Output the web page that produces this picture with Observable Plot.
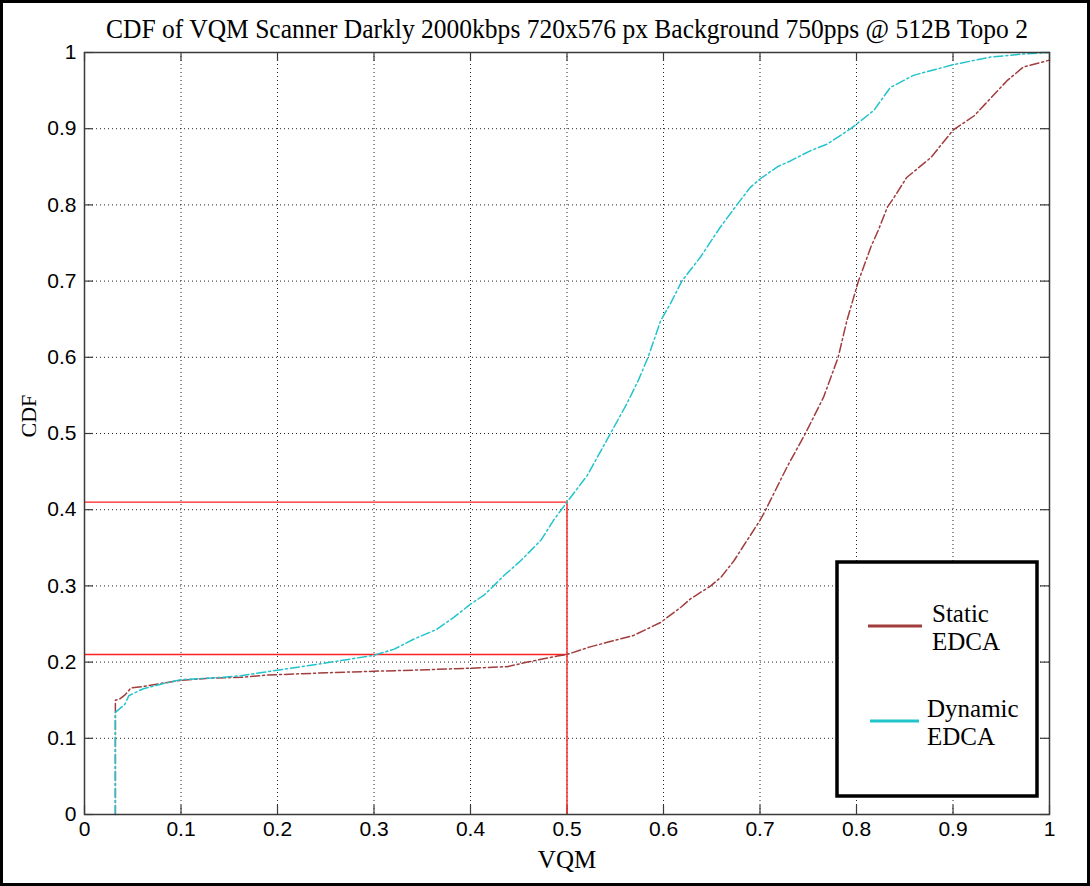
<!DOCTYPE html>
<html>
<head>
<meta charset="utf-8">
<script src="https://cdn.jsdelivr.net/npm/d3@7"></script>
<script src="https://cdn.jsdelivr.net/npm/@observablehq/plot@0.6"></script>
<style>
  html, body { margin: 0; padding: 0; background: #fff; }
  #chart { width: 1090px; height: 886px; }
</style>
</head>
<body>
<div id="chart"></div>
<script>
// ---- Data ----
const titleText = "CDF of VQM Scanner Darkly 2000kbps 720x576 px Background 750pps @ 512B Topo 2";
const xLabel = "VQM";
const yLabel = "CDF";
const seriesNames = ["Static\nEDCA", "Dynamic\nEDCA"];
const seriesColors = ["#a13d3d", "#22c4cc"];

const xTicks = [0, 0.1, 0.2, 0.3, 0.4, 0.5, 0.6, 0.7, 0.8, 0.9, 1];
const xTickLabels = ["0", "0.1", "0.2", "0.3", "0.4", "0.5", "0.6", "0.7", "0.8", "0.9", "1"];
const yTicks = [0, 0.1, 0.2, 0.3, 0.4, 0.5, 0.6, 0.7, 0.8, 0.9, 1];
const yTickLabels = ["0", "0.1", "0.2", "0.3", "0.4", "0.5", "0.6", "0.7", "0.8", "0.9", "1"];

const staticVQM = [0.032, 0.032, 0.037, 0.042, 0.048, 0.061, 0.079, 0.100, 0.131, 0.162, 0.189, 0.251, 0.300, 0.355, 0.400, 0.438, 0.459, 0.490, 0.500, 0.524, 0.569, 0.597, 0.618, 0.628, 0.649, 0.660, 0.673, 0.700, 0.706, 0.728, 0.747, 0.766, 0.781, 0.790, 0.802, 0.815, 0.823, 0.832, 0.839, 0.852, 0.877, 0.900, 0.922, 0.956, 0.973, 1.000];
const staticCDF = [0.000, 0.150, 0.152, 0.157, 0.166, 0.168, 0.172, 0.176, 0.179, 0.180, 0.183, 0.186, 0.188, 0.190, 0.192, 0.194, 0.200, 0.208, 0.210, 0.220, 0.235, 0.252, 0.272, 0.283, 0.300, 0.312, 0.333, 0.386, 0.400, 0.456, 0.500, 0.548, 0.600, 0.648, 0.700, 0.745, 0.768, 0.797, 0.810, 0.836, 0.862, 0.898, 0.917, 0.963, 0.981, 0.990];

const dynamicVQM = [0.032, 0.032, 0.042, 0.046, 0.061, 0.079, 0.100, 0.131, 0.162, 0.182, 0.251, 0.300, 0.321, 0.341, 0.365, 0.383, 0.400, 0.414, 0.424, 0.435, 0.452, 0.473, 0.486, 0.500, 0.521, 0.545, 0.562, 0.574, 0.584, 0.597, 0.607, 0.619, 0.638, 0.659, 0.676, 0.690, 0.700, 0.718, 0.732, 0.752, 0.770, 0.794, 0.800, 0.818, 0.835, 0.859, 0.900, 0.939, 0.973, 1.000];
const dynamicCDF = [0.000, 0.134, 0.145, 0.156, 0.165, 0.171, 0.177, 0.179, 0.182, 0.186, 0.199, 0.209, 0.217, 0.230, 0.243, 0.259, 0.276, 0.288, 0.300, 0.314, 0.333, 0.360, 0.386, 0.410, 0.445, 0.500, 0.539, 0.570, 0.600, 0.648, 0.670, 0.700, 0.731, 0.771, 0.800, 0.823, 0.834, 0.850, 0.858, 0.871, 0.880, 0.900, 0.906, 0.924, 0.954, 0.970, 0.984, 0.994, 0.998, 1.000];

const guideVQM = [0.5];
const guideLevels = [0.41, 0.21];

// ---- Build table ----
const rows = [];
staticVQM.forEach((v, i) => rows.push({series: seriesNames[0], vqm: v, cdf: staticCDF[i]}));
dynamicVQM.forEach((v, i) => rows.push({series: seriesNames[1], vqm: v, cdf: dynamicCDF[i]}));

const W = 1090, H = 886;
const mL = 84, mR = 41, mT = 52, mB = 72;
const frameW = W - mL - mR, frameH = H - mT - mB;
const tickLen = 9;
const serif = "Liberation Serif, Times New Roman, serif";
const axisColor = "#3a3a3a";

const chart = Plot.plot({
  width: W,
  height: H,
  marginLeft: mL,
  marginRight: mR,
  marginTop: mT,
  marginBottom: mB,
  style: {fontFamily: "Liberation Sans, Arial, sans-serif", fontSize: "21px", background: "#fff", color: "#000"},
  x: {domain: [0, 1]},
  y: {domain: [0, 1]},
  color: {domain: seriesNames, range: seriesColors},
  marks: [
    Plot.gridX(xTicks, {stroke: "#000", strokeOpacity: 0.85, strokeDasharray: "1,3"}),
    Plot.gridY(yTicks, {stroke: "#000", strokeOpacity: 0.85, strokeDasharray: "1,3"}),
    // inward ticks on all four sides
    Plot.tickX(xTicks, {x: d => d, insetTop: frameH - tickLen, stroke: axisColor, strokeWidth: 1.2}),
    Plot.tickX(xTicks, {x: d => d, insetBottom: frameH - tickLen, stroke: axisColor, strokeWidth: 1.2}),
    Plot.tickY(yTicks, {y: d => d, insetRight: frameW - tickLen, stroke: axisColor, strokeWidth: 1.2}),
    Plot.tickY(yTicks, {y: d => d, insetLeft: frameW - tickLen, stroke: axisColor, strokeWidth: 1.2}),
    Plot.axisX(xTicks, {tickSize: 0, tickPadding: 7, tickFormat: d => xTickLabels[Math.round(d * 10)], label: null, fontSize: 21}),
    Plot.axisY(yTicks, {tickSize: 0, tickPadding: 8, tickFormat: d => yTickLabels[Math.round(d * 10)], label: null, fontSize: 21}),
    // red guide lines
    Plot.ruleY(guideLevels, {y: d => d, x1: 0, x2: guideVQM[0], stroke: "#ff2020", strokeWidth: 1.4}),
    Plot.ruleX(guideVQM, {x: d => d, y1: 0, y2: guideLevels[0], stroke: "#ff2020", strokeWidth: 1.4}),
    // CDF curves
    Plot.line(rows, {x: "vqm", y: "cdf", z: "series", stroke: "series", strokeWidth: 1.5, strokeDasharray: "9,3,2,3", curve: "linear"}),
    Plot.frame({stroke: axisColor, strokeWidth: 1.5}),
    // titles
    Plot.text([titleText], {frameAnchor: "top", lineAnchor: "middle", dy: -23, fontSize: 27, fontFamily: serif, fill: "#000"}),
    Plot.text([xLabel], {frameAnchor: "bottom", lineAnchor: "middle", dy: 45, fontSize: 25, fontFamily: serif, fill: "#000"}),
    Plot.text([yLabel], {frameAnchor: "left", lineAnchor: "middle", dx: -56, dy: 4, rotate: -90, fontSize: 22, fontFamily: serif, fill: "#000"})
  ]
});

document.getElementById("chart").appendChild(chart);

const svg = d3.select(chart);
// squeeze the title to the reference's width
svg.selectAll("text").filter(function() { return this.textContent === titleText; })
  .attr("textLength", 922).attr("lengthAdjust", "spacingAndGlyphs");

// ---- Legend box (drawn in pixel layout, inside the frame) ----
const lg = svg.append("g").attr("text-anchor", "start");
lg.append("rect").attr("x", 837).attr("y", 562).attr("width", 200).attr("height", 234)
  .attr("fill", "#fff").attr("stroke", "#000").attr("stroke-width", 3.5);
const legendItems = [
  {color: seriesColors[0], lines: seriesNames[0].split("\n"), lx1: 868, lx2: 922, ly: 626, tx: 932, ty: 622},
  {color: seriesColors[1], lines: seriesNames[1].split("\n"), lx1: 870, lx2: 919, ly: 721, tx: 927, ty: 717}
];
legendItems.forEach(it => {
  lg.append("line").attr("x1", it.lx1).attr("x2", it.lx2).attr("y1", it.ly).attr("y2", it.ly)
    .attr("stroke", it.color).attr("stroke-width", 3);
  it.lines.forEach((t, j) => {
    lg.append("text").attr("x", it.tx).attr("y", it.ty + j * 28).text(t)
      .attr("text-anchor", "start")
      .attr("font-family", serif).attr("font-size", 25).attr("fill", "#000");
  });
});

// outer border of the figure
svg.append("rect").attr("x", 1.5).attr("y", 1.5).attr("width", W - 3).attr("height", H - 3)
  .attr("fill", "none").attr("stroke", "#000").attr("stroke-width", 3);
</script>
</body>
</html>
